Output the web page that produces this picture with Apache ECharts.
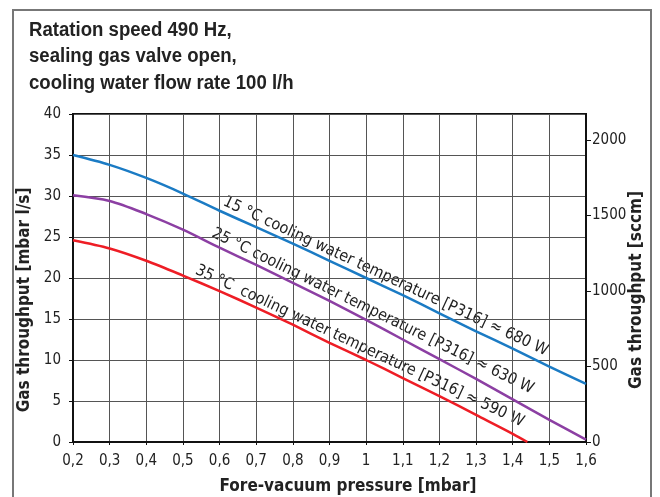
<!DOCTYPE html>
<html><head><meta charset="utf-8">
<script src="https://cdn.jsdelivr.net/npm/echarts@6/dist/echarts.min.js"></script>
<style>html,body{margin:0;padding:0;background:#fff}#c{width:660px;height:497px}</style>
</head><body><div id="c"></div>
<script>
const pressure = [0.2,0.3,0.4,0.5,0.6,0.7,0.8,0.9,1.0,1.1,1.2,1.3,1.4,1.5,1.6];
const flow15 = [35.0,33.8,32.2,30.3,28.2,26.2,24.2,22.1,20.0,17.9,15.7,13.5,11.4,9.2,7.1];
const flow25 = [30.1,29.4,27.8,25.9,23.7,21.6,19.4,17.2,14.9,12.5,10.1,7.7,5.2,2.7,0.3];
const pressure35 = [0.2,0.3,0.4,0.5,0.6,0.7,0.8,0.9,1.0,1.1,1.2,1.3,1.4,1.44];
const flow35 = [24.6,23.6,22.1,20.3,18.4,16.4,14.3,12.1,10.0,7.8,5.6,3.3,1.0,0];
const xTickLabels = ['0,2','0,3','0,4','0,5','0,6','0,7','0,8','0,9','1','1,1','1,2','1,3','1,4','1,5','1,6'];
const leftTicks = ['0','5','10','15','20','25','30','35','40'];
const rightTicks = ['0','500','1000','1500','2000'];
const curveLabels = [
  '15 °C cooling water temperature [P316] \u2248 680 W',
  '25 °C cooling water temperature [P316] \u2248 630 W',
  '35 °C  cooling water temperature [P316] \u2248 590 W'
];
const titleLines = ['Ratation speed 490 Hz,','sealing gas valve open,','cooling water flow rate 100 l/h'];
const xName = 'Fore-vacuum pressure [mbar]';
const yName = 'Gas throughput [mbar l/s]';
const y2Name = 'Gas throughput [sccm]';

const NARROW = '"DejaVu Sans Condensed", "Liberation Sans", Arial, sans-serif';
const TITLEFONT = '"Liberation Sans", Arial, sans-serif';
const chart = echarts.init(document.getElementById('c'), null, {renderer:'canvas'});
const pairs = (xs, ys) => xs.map((x,i)=>[x, ys[i]]);
const colors = ['#1b7bc4','#8c3fa3','#ee1d25'];
const titleGraphics = titleLines.map((t,i)=>({type:'text', x:29, y:30+i*26.5, scaleX:0.93,
  style:{text:t, fontFamily:TITLEFONT, fontWeight:'bold', fontSize:20, fill:'#222', textAlign:'left', textVerticalAlign:'middle'}}));
const option = {
  animation:false,
  backgroundColor:'#fff',
  grid:{left:73, right:74, top:114, bottom:55, show:true, borderColor:'#111', borderWidth:2, backgroundColor:'transparent'},
  xAxis:{type:'value', min:0.2, max:1.6, interval:0.1,
    axisLine:{show:true, onZero:false, lineStyle:{color:'#111', width:2}},
    axisTick:{show:true, inside:false, length:3, lineStyle:{color:'#111'}},
    axisLabel:{margin:12, fontFamily:NARROW, fontSize:15, color:'#222',
      formatter:v=>xTickLabels[Math.round((v-0.2)*10)]},
    splitLine:{show:true, lineStyle:{color:'#555', width:1}}},
  yAxis:[
    {type:'value', min:0, max:40, interval:5, position:'left',
     axisLine:{show:true, lineStyle:{color:'#111', width:2}},
     axisTick:{show:true, length:4, lineStyle:{color:'#111'}},
     axisLabel:{margin:12, fontFamily:NARROW, fontSize:15, color:'#222',
       formatter:v=>leftTicks[Math.round(v/5)]},
     splitLine:{show:true, lineStyle:{color:'#555', width:1}}},
    {type:'value', min:0, max:2172, interval:500, position:'right',
     axisLine:{show:true, lineStyle:{color:'#111', width:2}},
     axisTick:{show:true, length:5, lineStyle:{color:'#111'}},
     axisLabel:{margin:6, fontFamily:NARROW, fontSize:15, color:'#222', showMaxLabel:false,
       formatter:v=>{const i=Math.round(v/500); return (Math.abs(v-i*500)<1e-6 && rightTicks[i]!==undefined)?rightTicks[i]:'';}},
     splitLine:{show:false}}
  ],
  series:[
    {type:'line', data:pairs(pressure, flow15), smooth:0.3, symbol:'none', lineStyle:{color:colors[0], width:2.5}},
    {type:'line', data:pairs(pressure, flow25), smooth:0.3, symbol:'none', lineStyle:{color:colors[1], width:2.5}},
    {type:'line', data:pairs(pressure35, flow35), smooth:0.3, symbol:'none', lineStyle:{color:colors[2], width:2.5}}
  ],
  graphic:[
    {type:'rect', shape:{x:13, y:10, width:638, height:520}, style:{fill:'none', stroke:'#777', lineWidth:2}, silent:true, z:-1},
    {type:'text', x:25, y:300, rotation:Math.PI/2, style:{text:yName, fontFamily:NARROW, fontWeight:'bold', fontSize:17, fill:'#222', textAlign:'center', textVerticalAlign:'middle'}},
    {type:'text', x:637, y:290, rotation:Math.PI/2, style:{text:y2Name, fontFamily:NARROW, fontWeight:'bold', fontSize:17, fill:'#222', textAlign:'center', textVerticalAlign:'middle'}},
    {type:'text', x:348, y:487, style:{text:xName, fontFamily:NARROW, fontWeight:'bold', fontSize:17, fill:'#222', textAlign:'center', textVerticalAlign:'middle'}}
  ].concat(titleGraphics)
};
chart.setOption(option);

function interp(xs, ys, x){
  for(let i=0;i<xs.length-1;i++){ if(x>=xs[i] && x<=xs[i+1]){ const t=(x-xs[i])/(xs[i+1]-xs[i]); return ys[i]+t*(ys[i+1]-ys[i]); } }
  return ys[ys.length-1];
}
const labelDefs = [
  {text:curveLabels[0], xs:pressure, ys:flow15, x0:0.603, ang:25.0},
  {text:curveLabels[1], xs:pressure, ys:flow25, x0:0.572, ang:26.2},
  {text:curveLabels[2], xs:pressure35, ys:flow35, x0:0.527, ang:25.1}
];
const extra = labelDefs.map(d=>{
  const p = chart.convertToPixel({gridIndex:0}, [d.x0, interp(d.xs, d.ys, d.x0)]);
  return {type:'text', x:p[0], y:p[1]-3, rotation:-d.ang*Math.PI/180,
    style:{text:d.text, fontFamily:NARROW, fontSize:16, fill:'#222', textAlign:'left', textVerticalAlign:'bottom'}};
});
chart.setOption({graphic: option.graphic.concat(extra)});
</script></body></html>
